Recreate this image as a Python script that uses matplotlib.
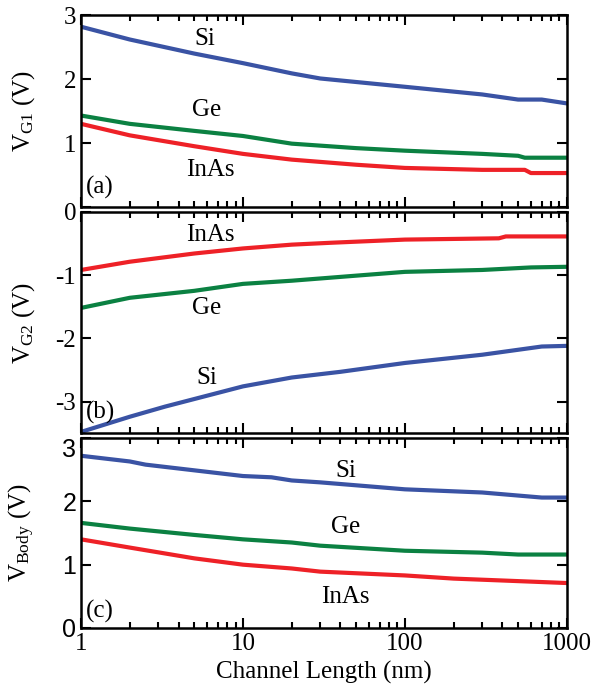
import matplotlib.pyplot as plt
from matplotlib.ticker import FixedLocator, NullFormatter

plt.rcParams['font.family'] = ['Liberation Serif', 'DejaVu Serif']
plt.rcParams['mathtext.fontset'] = 'custom'
plt.rcParams['mathtext.rm'] = 'Liberation Serif'
plt.rcParams['mathtext.it'] = 'Liberation Serif:italic'

# Channel length (nm) and gate voltages
L_si_a = [1, 2, 5, 10, 20, 30, 100, 300, 500, 700, 1000]
vg1_si = [2.82, 2.62, 2.40, 2.25, 2.09, 2.01, 1.88, 1.76, 1.68, 1.68, 1.62]
L_ge_a = [1, 2, 5, 10, 20, 50, 100, 300, 500, 550, 1000]
vg1_ge = [1.43, 1.30, 1.19, 1.11, 0.99, 0.92, 0.88, 0.83, 0.80, 0.77, 0.77]
L_in_a = [1, 2, 5, 10, 20, 50, 100, 300, 550, 600, 1000]
vg1_in = [1.30, 1.12, 0.95, 0.83, 0.74, 0.66, 0.61, 0.58, 0.58, 0.53, 0.53]

L_si_b = [1, 2, 3.3, 10, 20, 40, 100, 300, 700, 1000]
vg2_si = [-3.48, -3.24, -3.08, -2.76, -2.62, -2.53, -2.39, -2.26, -2.13, -2.12]
L_ge_b = [1, 2, 5, 10, 20, 50, 100, 300, 600, 1000]
vg2_ge = [-1.52, -1.36, -1.25, -1.14, -1.09, -1.01, -0.95, -0.92, -0.88, -0.87]
L_in_b = [1, 2, 5, 10, 20, 35, 100, 380, 420, 1000]
vg2_in = [-0.92, -0.79, -0.66, -0.58, -0.52, -0.49, -0.44, -0.42, -0.39, -0.39]

L_si_c = [1, 2, 2.5, 10, 15, 20, 30, 58, 100, 300, 700, 1000]
vb_si = [2.72, 2.63, 2.58, 2.40, 2.38, 2.33, 2.30, 2.24, 2.19, 2.14, 2.06, 2.06]
L_ge_c = [1, 2, 5, 10, 20, 30, 100, 300, 500, 1000]
vb_ge = [1.66, 1.57, 1.47, 1.40, 1.35, 1.30, 1.22, 1.19, 1.16, 1.16]
L_in_c = [1, 2, 5, 10, 20, 30, 100, 200, 400, 1000]
vb_in = [1.40, 1.27, 1.10, 1.00, 0.94, 0.89, 0.83, 0.78, 0.75, 0.71]

blue = '#3a53a4'
green = '#0b8142'
red = '#ee2127'
fs = 18

fig = plt.figure(figsize=(6.02, 6.92), dpi=100)
left, width = 0.1346, 0.807
ax_a = fig.add_axes([left, 0.701, width, 0.277])
ax_b = fig.add_axes([left, 0.374, width, 0.320])
ax_c = fig.add_axes([left, 0.0925, width, 0.2745])

minor = [k * 10 ** e for e in range(0, 3) for k in range(2, 10)]


def style_axis(ax):
    ax.set_xscale('log')
    ax.set_xlim(1, 1000)
    ax.xaxis.set_major_locator(FixedLocator([1, 10, 100, 1000]))
    ax.xaxis.set_minor_locator(FixedLocator(minor))
    ax.xaxis.set_minor_formatter(NullFormatter())
    ax.tick_params(which='both', direction='in', top=True, right=True,
                   width=1.5, labelsize=fs)
    ax.tick_params(which='major', length=7)
    ax.tick_params(which='minor', length=4)
    for s in ax.spines.values():
        s.set_linewidth(1.8)


# (a)
ax_a.plot(L_si_a, vg1_si, color=blue, lw=3)
ax_a.plot(L_ge_a, vg1_ge, color=green, lw=3)
ax_a.plot(L_in_a, vg1_in, color=red, lw=3)
style_axis(ax_a)
ax_a.set_ylim(0, 3)
ax_a.set_yticks([0, 1, 2, 3])
ax_a.set_yticklabels(['', '1', '2', '3'])
ax_a.set_xticklabels([])
ax_a.set_ylabel(r'V$_{\rm G1}$ (V)', fontsize=fs)
ax_a.text(5.8, 2.63, 'Si', fontsize=fs, ha='center', va='center')
ax_a.text(6.0, 1.51, 'Ge', fontsize=fs, ha='center', va='center')
ax_a.text(6.3, 0.57, 'InAs', fontsize=fs, ha='center', va='center')
ax_a.text(0.01, 0.1, '(a)', fontsize=fs, transform=ax_a.transAxes, va='center')

# (b)
ax_b.plot(L_si_b, vg2_si, color=blue, lw=3)
ax_b.plot(L_ge_b, vg2_ge, color=green, lw=3)
ax_b.plot(L_in_b, vg2_in, color=red, lw=3)
style_axis(ax_b)
ax_b.set_ylim(-3.5, 0)
ax_b.set_yticks([-3, -2, -1, 0])
ax_b.set_yticklabels(['-3', '-2', '-1', '0'])
ax_b.set_xticklabels([])
ax_b.set_ylabel(r'V$_{\rm G2}$ (V)', fontsize=fs)
ax_b.text(6.3, -0.37, 'InAs', fontsize=fs, ha='center', va='center')
ax_b.text(6.0, -1.52, 'Ge', fontsize=fs, ha='center', va='center')
ax_b.text(6.0, -2.62, 'Si', fontsize=fs, ha='center', va='center')
ax_b.text(0.01, 0.095, '(b)', fontsize=fs, transform=ax_b.transAxes, va='center')

# (c)
ax_c.plot(L_si_c, vb_si, color=blue, lw=3)
ax_c.plot(L_ge_c, vb_ge, color=green, lw=3)
ax_c.plot(L_in_c, vb_in, color=red, lw=3)
style_axis(ax_c)
ax_c.set_ylim(0, 3)
ax_c.set_yticks([0, 1, 2, 3])
for lab in ax_c.get_yticklabels():
    lab.set_family(['Liberation Sans', 'DejaVu Sans'])
ax_c.get_yticklabels()[-1].set_va('top')
ax_c.set_ylabel(r'V$_{\rm Body}$ (V)', fontsize=fs)
ax_c.set_xticklabels(['1', '10', '100', '1000'])
ax_c.set_xlabel('Channel Length (nm)', fontsize=fs)
ax_c.text(43, 2.48, 'Si', fontsize=fs, ha='center', va='center')
ax_c.text(43, 1.60, 'Ge', fontsize=fs, ha='center', va='center')
ax_c.text(43, 0.49, 'InAs', fontsize=fs, ha='center', va='center')
ax_c.text(0.01, 0.085, '(c)', fontsize=fs, transform=ax_c.transAxes, va='center')

for ax in (ax_a, ax_b, ax_c):
    ax.yaxis.set_label_coords(-0.09, 0.5)

fig.savefig('out.png', dpi=100)
